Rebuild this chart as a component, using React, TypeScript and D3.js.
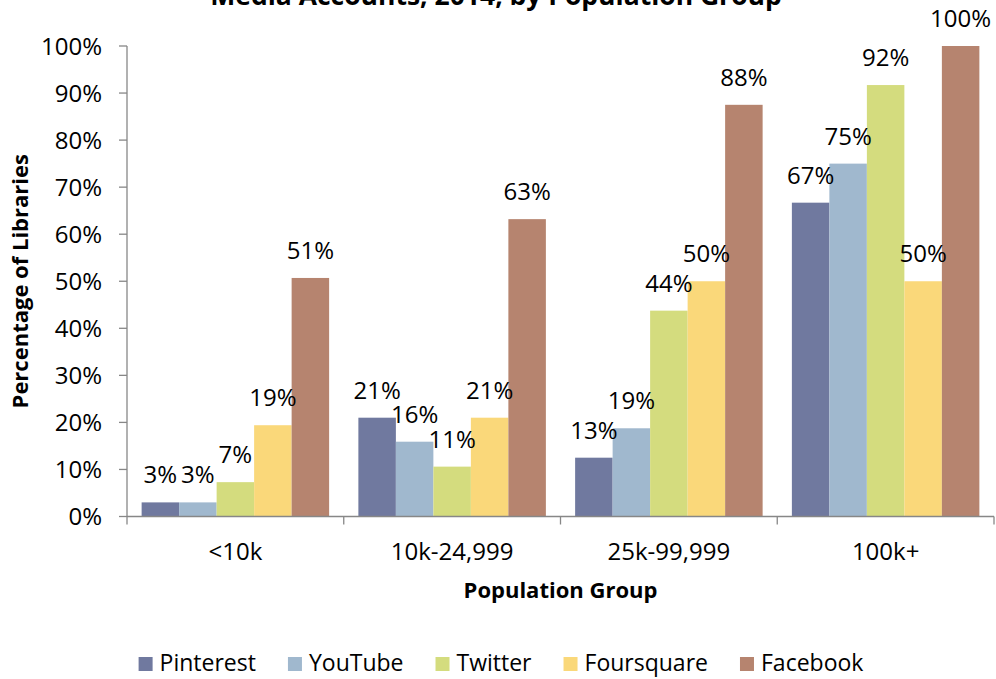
import React, { useEffect, useRef } from "react";
import * as d3 from "d3";

const categories = ["<10k", "10k-24,999", "25k-99,999", "100k+"];
const seriesNames = ["Pinterest", "YouTube", "Twitter", "Foursquare", "Facebook"];
const pinterest = [3.0, 21.0, 12.5, 66.7];
const youtube = [3.0, 15.9, 18.75, 75];
const twitter = [7.3, 10.6, 43.75, 91.7];
const foursquare = [19.4, 21.0, 50, 50];
const facebook = [50.7, 63.2, 87.5, 100];
const yTicks = [0, 10, 20, 30, 40, 50, 60, 70, 80, 90, 100];
const colors = ["#70799F", "#A0B8CE", "#D4DC7E", "#FAD87A", "#B6846F"];

const W = 996;
const H = 679;
const FONT = "'Open Sans', 'DejaVu Sans', sans-serif";

export default function App() {
  const ref = useRef<SVGSVGElement | null>(null);

  useEffect(() => {
    document.body.style.margin = "0";
    const svg = d3.select(ref.current);
    svg.selectAll("*").remove();

    const seriesValues = [pinterest, youtube, twitter, foursquare, facebook];
    const left = 127;
    const right = 994;
    const top = 46;
    const bottom = 516.5;

    const x0 = d3.scaleBand<string>().domain(categories).range([left, right]).paddingInner(0).paddingOuter(0);
    const x1 = d3.scaleBand<string>().domain(seriesNames).range([0, x0.bandwidth()]).paddingInner(0).paddingOuter(0.39);
    const y = d3.scaleLinear().domain([0, 100]).range([bottom, top]);

    // Title (partially cropped, as in the source image)
    svg.append("text")
      .attr("x", 496)
      .attr("y", 5)
      .attr("text-anchor", "middle")
      .attr("font-family", FONT)
      .attr("font-weight", "bold")
      .attr("font-size", 26.5)
      .attr("fill", "#000")
      .text("Media Accounts, 2014, by Population Group");

    // Bars
    const g = svg.append("g");
    categories.forEach((c, ci) => {
      seriesNames.forEach((s, si) => {
        const v = seriesValues[si][ci];
        const bx = (x0(c) as number) + (x1(s) as number);
        g.append("rect")
          .attr("x", bx)
          .attr("y", y(v))
          .attr("width", x1.bandwidth())
          .attr("height", y(0) - y(v))
          .attr("fill", colors[si]);
      });
    });

    // Y axis
    const axisColor = "#878787";
    svg.append("line")
      .attr("x1", left).attr("x2", left)
      .attr("y1", top).attr("y2", bottom)
      .attr("stroke", axisColor).attr("stroke-width", 1.3);
    yTicks.forEach((t) => {
      svg.append("line")
        .attr("x1", left - 8).attr("x2", left)
        .attr("y1", y(t)).attr("y2", y(t))
        .attr("stroke", axisColor).attr("stroke-width", 1.3);
      svg.append("text")
        .attr("x", 102)
        .attr("y", y(t))
        .attr("dy", "0.36em")
        .attr("text-anchor", "end")
        .attr("font-family", FONT)
        .attr("font-size", 24)
        .attr("fill", "#000")
        .text(`${t}%`);
    });

    // X axis
    svg.append("line")
      .attr("x1", left).attr("x2", right)
      .attr("y1", bottom).attr("y2", bottom)
      .attr("stroke", axisColor).attr("stroke-width", 1.3);
    const bounds = categories.map((c) => x0(c) as number).concat([right]);
    bounds.forEach((bx) => {
      svg.append("line")
        .attr("x1", bx).attr("x2", bx)
        .attr("y1", bottom).attr("y2", bottom + 8)
        .attr("stroke", axisColor).attr("stroke-width", 1.3);
    });
    categories.forEach((c) => {
      svg.append("text")
        .attr("x", (x0(c) as number) + x0.bandwidth() / 2)
        .attr("y", 560)
        .attr("text-anchor", "middle")
        .attr("font-family", FONT)
        .attr("font-size", 24)
        .attr("fill", "#000")
        .text(c);
    });

    // Data labels
    categories.forEach((c, ci) => {
      seriesNames.forEach((s, si) => {
        const v = seriesValues[si][ci];
        const cx = (x0(c) as number) + (x1(s) as number) + x1.bandwidth() / 2;
        svg.append("text")
          .attr("x", cx)
          .attr("y", y(v) - 19)
          .attr("text-anchor", "middle")
          .attr("font-family", FONT)
          .attr("font-size", 24)
          .attr("fill", "#000")
          .text(`${Math.round(v)}%`);
      });
    });

    // Axis titles
    svg.append("text")
      .attr("x", (left + right) / 2)
      .attr("y", 598)
      .attr("text-anchor", "middle")
      .attr("font-family", FONT)
      .attr("font-weight", "bold")
      .attr("font-size", 22)
      .attr("fill", "#000")
      .text("Population Group");

    svg.append("text")
      .attr("transform", `translate(28, ${(top + bottom) / 2}) rotate(-90)`)
      .attr("text-anchor", "middle")
      .attr("font-family", FONT)
      .attr("font-weight", "bold")
      .attr("font-size", 22)
      .attr("fill", "#000")
      .text("Percentage of Libraries");

    // Legend
    const lg = svg.append("g");
    let cursor = 0;
    const sq = 14;
    const gapText = 7;
    const gapItem = 32;
    seriesNames.forEach((s, si) => {
      const item = lg.append("g").attr("transform", `translate(${cursor},0)`);
      item.append("rect")
        .attr("x", 0).attr("y", -sq)
        .attr("width", sq).attr("height", sq)
        .attr("fill", colors[si]);
      const t = item.append("text")
        .attr("x", sq + gapText)
        .attr("y", 0)
        .attr("font-family", FONT)
        .attr("font-size", 23)
        .attr("fill", "#000")
        .text(s);
      const tw = (t.node() as SVGTextElement).getComputedTextLength();
      cursor += sq + gapText + tw + gapItem;
    });
    const total = cursor - gapItem;
    lg.attr("transform", `translate(${501 - total / 2}, 671)`);
  }, []);

  return <svg ref={ref} width={W} height={H} style={{ display: "block", background: "#fff" }} />;
}
